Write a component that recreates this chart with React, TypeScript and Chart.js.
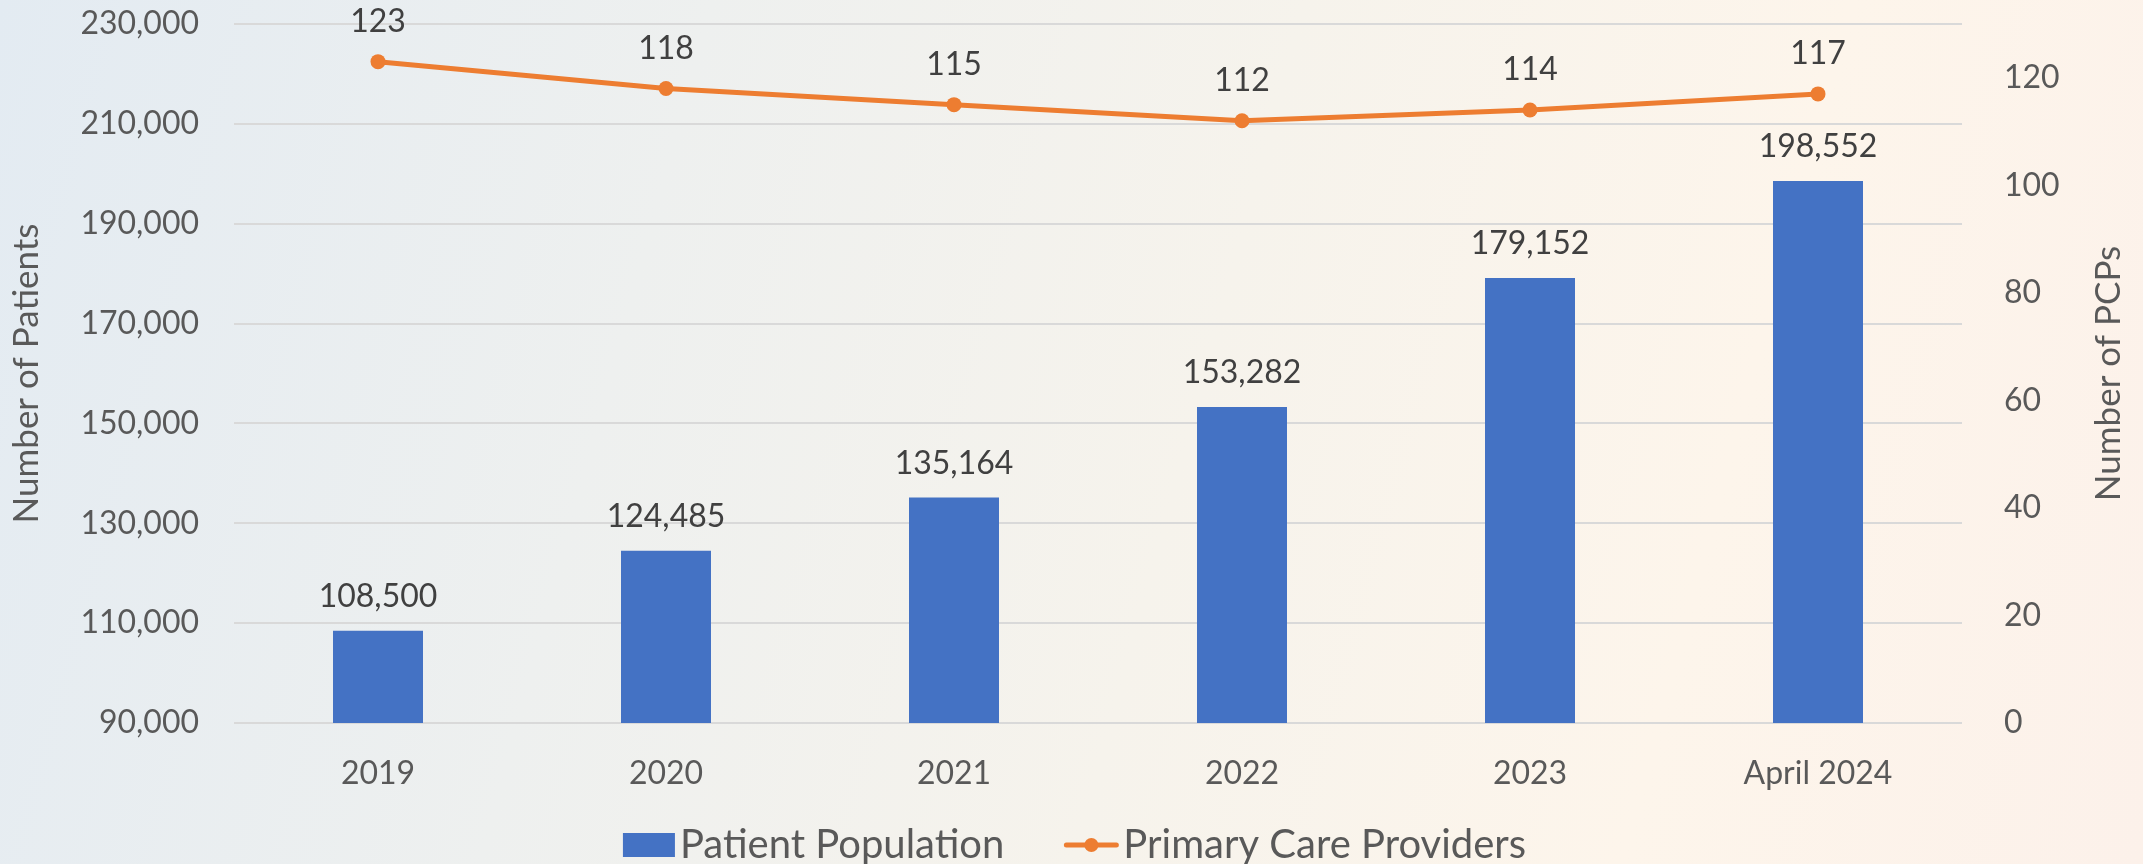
import React, { useEffect, useRef } from "react";
import { Chart, registerables } from "chart.js";

Chart.register(...registerables);

const categories = ["2019", "2020", "2021", "2022", "2023", "April 2024"];
const patientPopulation = [108500, 124485, 135164, 153282, 179152, 198552];
const primaryCareProviders = [123, 118, 115, 112, 114, 117];
const patientAxis = { min: 90000, max: 230000, step: 20000 };
const pcpAxis = { min: 0, max: 130, step: 20 };
const seriesNames = ["Patient Population", "Primary Care Providers"];
const axisTitles = ["Number of Patients", "Number of PCPs"];

const FONT = "Lato, 'Open Sans', sans-serif";
const BLUE = "#4472C4";
const ORANGE = "#ED7D31";
const AXIS_TEXT = "#595959";
const LABEL_TEXT = "#404040";

const fmt = (v: number) => Number(v).toLocaleString("en-US");

const extrasPlugin = {
  id: "extras",
  afterDatasetsDraw(chart: any) {
    const ctx = chart.ctx as CanvasRenderingContext2D;
    ctx.save();
    ctx.font = `32px ${FONT}`;
    ctx.fillStyle = LABEL_TEXT;
    ctx.textAlign = "center";
    ctx.textBaseline = "middle";
    const barMeta = chart.getDatasetMeta(0);
    barMeta.data.forEach((el: any, i: number) => {
      ctx.fillText(fmt(patientPopulation[i]), el.x, el.y - 34);
    });
    const lineMeta = chart.getDatasetMeta(1);
    lineMeta.data.forEach((el: any, i: number) => {
      ctx.fillText(String(primaryCareProviders[i]), el.x, el.y - 40);
    });
    ctx.restore();
  },
  afterDraw(chart: any) {
    const ctx = chart.ctx as CanvasRenderingContext2D;
    const area = chart.chartArea;
    ctx.save();
    // right axis title
    ctx.font = `35px ${FONT}`;
    ctx.fillStyle = AXIS_TEXT;
    ctx.textAlign = "center";
    ctx.textBaseline = "middle";
    ctx.translate(chart.width - 34, (area.top + area.bottom) / 2);
    ctx.rotate(-Math.PI / 2);
    ctx.fillText(axisTitles[1], 0, 0);
    ctx.restore();

    // legend
    ctx.save();
    ctx.font = `40px ${FONT}`;
    const t1 = ctx.measureText(seriesNames[0]).width;
    const t2 = ctx.measureText(seriesNames[1]).width;
    const rectW = 52, rectH = 24, lineW = 54, gapTxt = 5, gapItems = 60;
    const total = rectW + gapTxt + t1 + gapItems + lineW + gapTxt + t2;
    let x = chart.width / 2 + 3 - total / 2;
    const cy = 845;
    ctx.fillStyle = BLUE;
    ctx.fillRect(x, cy - rectH / 2, rectW, rectH);
    x += rectW + gapTxt;
    ctx.fillStyle = AXIS_TEXT;
    ctx.textAlign = "left";
    ctx.textBaseline = "middle";
    ctx.fillText(seriesNames[0], x, cy);
    x += t1 + gapItems;
    ctx.strokeStyle = ORANGE;
    ctx.lineWidth = 5;
    ctx.lineCap = "round";
    ctx.beginPath();
    ctx.moveTo(x + 2, cy);
    ctx.lineTo(x + lineW - 2, cy);
    ctx.stroke();
    ctx.fillStyle = ORANGE;
    ctx.beginPath();
    ctx.arc(x + lineW / 2, cy, 7, 0, Math.PI * 2);
    ctx.fill();
    x += lineW + gapTxt;
    ctx.fillStyle = AXIS_TEXT;
    ctx.fillText(seriesNames[1], x, cy);
    ctx.restore();
  },
};

export default function App() {
  const canvasRef = useRef<HTMLCanvasElement | null>(null);

  useEffect(() => {
    document.body.style.margin = "0";
    const canvas = canvasRef.current;
    if (!canvas) return;
    const chart = new Chart(canvas, {
      type: "bar",
      data: {
        labels: categories,
        datasets: [
          {
            type: "bar",
            label: seriesNames[0],
            data: patientPopulation,
            backgroundColor: BLUE,
            yAxisID: "y",
            barPercentage: 0.3125,
            categoryPercentage: 1,
            order: 2,
          },
          {
            type: "line",
            label: seriesNames[1],
            data: primaryCareProviders,
            borderColor: ORANGE,
            backgroundColor: ORANGE,
            borderWidth: 5,
            pointRadius: 7.5,
            pointHoverRadius: 7.5,
            pointBorderWidth: 0,
            pointBackgroundColor: ORANGE,
            yAxisID: "y1",
            order: 1,
            tension: 0,
          },
        ],
      },
      options: {
        responsive: false,
        animation: false,
        events: [],
        layout: { padding: { top: 24, left: 0, right: 0, bottom: 0 } },
        plugins: {
          legend: { display: false },
          tooltip: { enabled: false },
        },
        scales: {
          x: {
            grid: { display: false },
            border: { display: false },
            ticks: {
              font: { family: FONT, size: 32 },
              color: AXIS_TEXT,
              padding: 23,
              maxRotation: 0,
            },
            afterFit: (s: any) => {
              s.height = 141;
            },
          },
          y: {
            position: "left",
            min: patientAxis.min,
            max: patientAxis.max,
            border: { display: false },
            grid: { color: "#D9D9D9", lineWidth: 2, drawTicks: false },
            ticks: {
              stepSize: patientAxis.step,
              font: { family: FONT, size: 32 },
              color: AXIS_TEXT,
              padding: 35,
              callback: (v: any) => fmt(v),
            },
            title: {
              display: true,
              text: axisTitles[0],
              font: { family: FONT, size: 35 },
              color: AXIS_TEXT,
              padding: { top: 6, bottom: 0 },
            },
            afterFit: (s: any) => {
              s.width = 234;
              s.paddingTop = 10;
              s.paddingBottom = 10;
            },
          },
          y1: {
            position: "right",
            min: pcpAxis.min,
            max: pcpAxis.max,
            border: { display: false },
            grid: { drawOnChartArea: false, drawTicks: false },
            ticks: {
              stepSize: pcpAxis.step,
              font: { family: FONT, size: 32 },
              color: AXIS_TEXT,
              padding: 42,
              callback: (v: any) => (Number(v) % pcpAxis.step === 0 ? String(v) : ""),
            },
            afterFit: (s: any) => {
              s.width = 181;
              s.paddingTop = 10;
              s.paddingBottom = 10;
            },
          },
        },
      },
      plugins: [extrasPlugin],
    } as any);
    return () => chart.destroy();
  }, []);

  return (
    <div
      style={{
        position: "absolute",
        left: 0,
        top: 0,
        width: 2143,
        height: 864,
        background:
          "linear-gradient(105deg, #e3ebf2 0%, #eef0ef 30%, #f6f3ec 55%, #fdf5eb 78%, #fcf1ea 100%)",
      }}
    >
      <canvas ref={canvasRef} width={2143} height={864} style={{ display: "block" }} />
    </div>
  );
}
